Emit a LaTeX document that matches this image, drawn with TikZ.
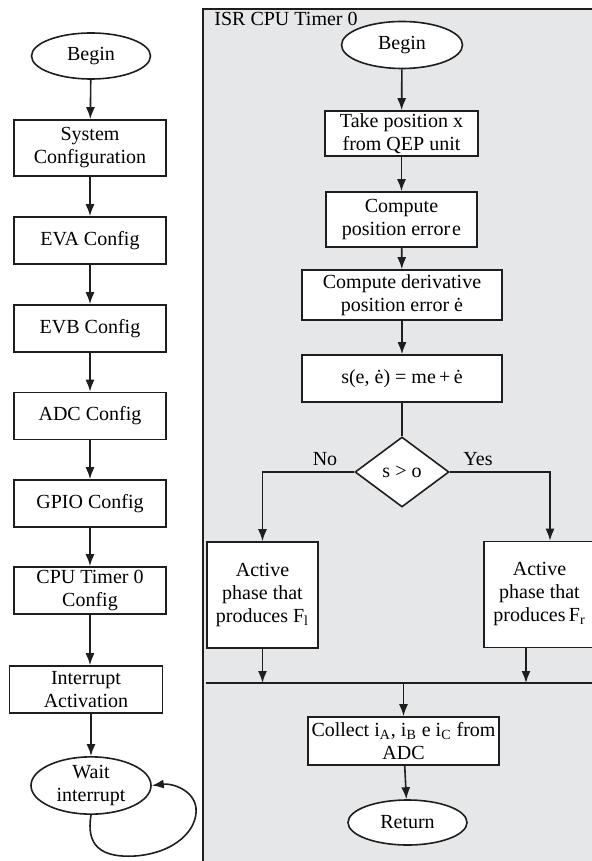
\documentclass[tikz,border=0pt]{standalone}
\usepackage{fontspec}
\setmainfont{Liberation Serif}
\usetikzlibrary{shapes.geometric,arrows.meta,calc}

\definecolor{panelgray}{RGB}{230,231,233}
\definecolor{linegray}{RGB}{30,30,30}

\begin{document}
\begin{tikzpicture}[x=0.5pt, y=-0.5pt,
    every node/.style={font=\fontsize{10}{11.5}\selectfont, align=center, inner sep=1pt},
    block/.style={draw=linegray, fill=white, line width=0.8pt, shape=rectangle},
    term/.style={draw=linegray, fill=white, line width=0.8pt, shape=ellipse,
        minimum width=59.5pt, minimum height=23pt},
    decision/.style={draw=linegray, fill=white, line width=0.8pt, shape=diamond,
        aspect=1.34, minimum width=47pt, minimum height=35pt, inner sep=0},
    flow/.style={draw=linegray, line width=0.8pt},
    arrow/.style={flow, -{Latex[length=6pt, width=4.5pt]}}]

    \useasboundingbox (0, 0) rectangle (592, 861);

    % ISR panel
    \draw[draw=linegray, fill=panelgray, line width=0.8pt] (203, 9) rectangle (600, 870);
    \node[anchor=base west] (isr) at (212, 26) {ISR CPU Timer 0};

    % Main program
    \node[term] (begin) at (91, 56) {Begin};
    \node[block, minimum width=76pt, minimum height=28pt] (sys) at (90, 148)
        {System\\Configuration};
    \node[block, minimum width=76pt, minimum height=23.5pt] (eva) at (90, 240.5) {EVA Config};
    \node[block, minimum width=76pt, minimum height=23.5pt] (evb) at (90, 328.5) {EVB Config};
    \node[block, minimum width=76pt, minimum height=23.5pt] (adc) at (90, 416) {ADC Config};
    \node[block, minimum width=76pt, minimum height=23.5pt] (gpio) at (90, 503.5) {GPIO Config};
    \node[block, minimum width=76pt, minimum height=23.5pt, inner ysep=0pt] (cpu) at (90, 590.5)
        {CPU Timer 0\\Config};
    \node[block, minimum width=76.5pt, minimum height=23.5pt, inner ysep=0pt] (intr) at (86, 689.5)
        {Interrupt\\Activation};
    \node[term, minimum width=60pt, minimum height=22.5pt, inner sep=0pt] (wait) at (91, 785.5)
        {Wait\\interrupt};

    \draw[arrow] (begin) -- (sys);
    \draw[arrow] (sys) -- (eva);
    \draw[arrow] (eva) -- (evb);
    \draw[arrow] (evb) -- (adc);
    \draw[arrow] (adc) -- (gpio);
    \draw[arrow] (gpio) -- (cpu);
    \draw[arrow] (cpu.south) -- (cpu.south |- intr.north);
    \draw[arrow] (intr.south -| wait.north) -- (wait.north);
    \draw[arrow] (wait.south) .. controls (86, 845) and (100, 858) .. (135, 856)
        .. controls (175, 853) and (198, 830) .. (196, 808)
        .. controls (194, 790) and (172, 783) .. (wait.east);

    % Interrupt routine
    \node[term, minimum width=60.5pt, minimum height=23.5pt] (begin2) at (402, 45) {Begin};
    \node[block, minimum width=76.5pt, minimum height=22.5pt, inner ysep=0pt] (take) at (401.5, 133.5)
        {Take position x\\from QEP unit};
    \node[block, minimum width=75.5pt, minimum height=27.5pt] (err) at (401.5, 219.5)
        {Compute\\position error\kern1pt e};
    \node[block, minimum width=100pt, minimum height=25pt, inner ysep=0pt] (der) at (402, 295)
        {Compute derivative\\position error \.e};
    \node[block, minimum width=100pt, minimum height=23.5pt] (sfun) at (402, 378.5)
        {s(e, \.e) = me\,+\,\.e};
    \node[decision] (dec) at (402, 472) {s > o};
    \node (no) at (325, 459) {No};
    \node (yes) at (478, 459) {Yes};
    \node[block, minimum width=55.5pt, minimum height=53pt] (actl) at (262.5, 595)
        {Active\\phase that\\produces F\textsubscript{l}};
    \node[block, minimum width=55.5pt, minimum height=53pt] (actr) at (539.5, 594.5)
        {Active\\phase that\\produces\,F\textsubscript{r}};
    \node[block, minimum width=95.5pt, minimum height=24pt, inner ysep=0pt] (col) at (403.5, 741)
        {Collect i\textsubscript{A}, i\textsubscript{B} e i\textsubscript{C} from\\ADC};
    \node[term, minimum width=59.5pt, minimum height=22.5pt] (ret) at (407.5, 822.5) {Return};

    \coordinate (yesturn) at (550, 472);
    \coordinate (joinl) at (206, 683);
    \coordinate (joinr) at (600, 683);

    \draw[arrow] (begin2) -- (take);
    \draw[arrow] (take) -- (err);
    \draw[arrow] (err) -- (der);
    \draw[arrow] (der) -- (sfun);
    \draw[flow] (sfun) -- (dec);
    \draw[arrow] (dec.west) -| (actl.north);
    \draw[arrow] (dec.east) -- (yesturn) -- (yesturn |- actr.north);
    \draw[flow] (joinl) -- (joinr);
    \draw[arrow] (actl.south) -- (actl.south |- joinl);
    \draw[arrow] ($(actr.south)+(-13.5, 0)$) -- ($(actr.south |- joinr)+(-13.5, 0)$);
    \draw[arrow] (col.north |- joinl) -- (col.north);
    \draw[arrow] (col) -- (ret);

\end{tikzpicture}
\end{document}
